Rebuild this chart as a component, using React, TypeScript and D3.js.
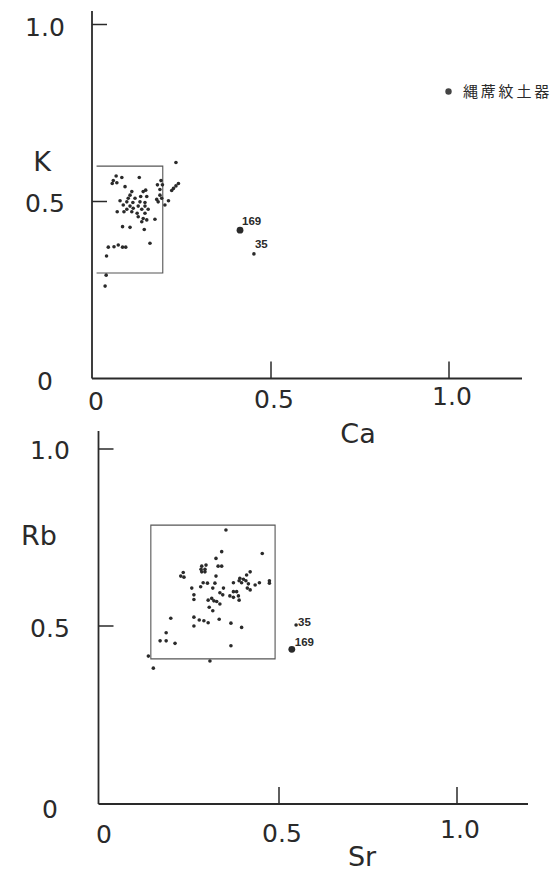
import React from "react";
import * as d3 from "d3";

// ---- Data ----
// Upper panel: Ca (x) vs K (y)
const caValues = [
  0.233, 0.065, 0.081, 0.057, 0.130, 0.054, 0.067, 0.090, 0.191, 0.181,
  0.195, 0.240, 0.233, 0.226, 0.221, 0.188, 0.148, 0.141, 0.109, 0.104,
  0.188, 0.134, 0.151, 0.099, 0.118, 0.179, 0.193, 0.076, 0.095, 0.112,
  0.132, 0.146, 0.183, 0.212, 0.085, 0.104, 0.127, 0.146, 0.202, 0.095,
  0.113, 0.137, 0.155, 0.068, 0.087, 0.109, 0.124, 0.146, 0.127, 0.141,
  0.151, 0.174, 0.137, 0.083, 0.104, 0.144, 0.160, 0.043, 0.059, 0.071,
  0.083, 0.092, 0.038, 0.037, 0.034,
];
const kValues = [
  0.610, 0.572, 0.568, 0.559, 0.568, 0.551, 0.553, 0.542, 0.559, 0.547,
  0.547, 0.551, 0.544, 0.537, 0.531, 0.534, 0.532, 0.528, 0.528, 0.518,
  0.518, 0.514, 0.514, 0.509, 0.509, 0.506, 0.509, 0.502, 0.499, 0.497,
  0.499, 0.497, 0.499, 0.502, 0.490, 0.487, 0.487, 0.487, 0.490, 0.478,
  0.481, 0.478, 0.478, 0.471, 0.471, 0.471, 0.467, 0.467, 0.457, 0.452,
  0.448, 0.450, 0.443, 0.429, 0.427, 0.421, 0.382, 0.371, 0.372, 0.377,
  0.371, 0.371, 0.346, 0.292, 0.261,
];
// Lower panel: Sr (x) vs Rb (y)
const srValues = [
  0.351, 0.339, 0.323, 0.453, 0.329, 0.339, 0.283, 0.295, 0.281, 0.292,
  0.283, 0.292, 0.231, 0.224, 0.233, 0.323, 0.419, 0.409, 0.390, 0.400,
  0.388, 0.407, 0.372, 0.395, 0.414, 0.433, 0.445, 0.473, 0.473, 0.287,
  0.299, 0.320, 0.280, 0.255, 0.314, 0.344, 0.411, 0.419, 0.334, 0.372,
  0.381, 0.261, 0.342, 0.362, 0.372, 0.386, 0.261, 0.388, 0.311, 0.301,
  0.317, 0.325, 0.334, 0.304, 0.314, 0.196, 0.261, 0.276, 0.289, 0.301,
  0.332, 0.261, 0.365, 0.395, 0.183, 0.166, 0.183, 0.208, 0.365, 0.133,
  0.306, 0.147,
];
const rbValues = [
  0.771, 0.710, 0.691, 0.705, 0.669, 0.669, 0.669, 0.672, 0.660, 0.660,
  0.653, 0.653, 0.651, 0.641, 0.638, 0.641, 0.653, 0.644, 0.635, 0.632,
  0.628, 0.628, 0.622, 0.622, 0.619, 0.616, 0.622, 0.628, 0.621, 0.622,
  0.621, 0.621, 0.611, 0.607, 0.607, 0.607, 0.607, 0.602, 0.594, 0.597,
  0.597, 0.588, 0.588, 0.585, 0.581, 0.585, 0.575, 0.573, 0.578, 0.573,
  0.571, 0.569, 0.562, 0.553, 0.543, 0.522, 0.525, 0.517, 0.515, 0.509,
  0.519, 0.500, 0.508, 0.496, 0.481, 0.458, 0.458, 0.451, 0.444, 0.415,
  0.401, 0.381,
];
// Labelled samples
const sampleIds = ["169", "35"];
const sampleCa = [0.413, 0.452];
const sampleK = [0.419, 0.352];
const sampleSr = [0.536, 0.548];
const sampleRb = [0.434, 0.503];
const sampleBig = [true, false];
// Selection boxes [x0, x1, y0, y1]
const boxCaK = [0.01, 0.196, 0.298, 0.600];
const boxSrRb = [0.140, 0.489, 0.407, 0.785];

const yTickValues = [0, 0.5, 1.0];
const xTickValues = [0, 0.5, 1.0];
const tickLabels = ["0", "0.5", "1.0"];
const legendLabel = "縄蓆紋土器";

const INK = "#2a2a2a";
const NUM_FONT = "'DejaVu Sans', sans-serif";

type PanelProps = {
  xs: number[]; ys: number[];
  sx: number[]; sy: number[];
  box: number[];
  xRange: [number, number]; yRange: [number, number];
  axisX: number; axisTop: number; axisRight: number; axisY: number;
  xTitle: string; yTitle: string;
  xTitlePos: [number, number]; yTitlePos: [number, number];
  yLabelX: number; yLabelDy: number[]; xLabelY: number[]; xLabelDx: number;
  sampleLabelPos: [number, number][];
  boxOpenLeft: boolean;
};

function Panel(p: PanelProps) {
  const x = d3.scaleLinear().domain([0, 1]).range(p.xRange);
  const y = d3.scaleLinear().domain([0, 1]).range(p.yRange);
  const [bx0, bx1, by0, by1] = p.box;
  const boxPath = p.boxOpenLeft
    ? `M${x(bx0)},${y(by1)}H${x(bx1)}V${y(by0)}H${x(bx0)}`
    : `M${x(bx0)},${y(by1)}H${x(bx1)}V${y(by0)}H${x(bx0)}Z`;
  return (
    <g>
      {/* axes */}
      <line x1={p.axisX} y1={p.axisTop} x2={p.axisX} y2={p.axisY} stroke={INK} strokeWidth={1.8} />
      <line x1={p.axisX} y1={p.axisY} x2={p.axisRight} y2={p.axisY} stroke={INK} strokeWidth={1.8} />
      {yTickValues.filter((v) => v > 0).map((v) => (
        <line key={"yt" + v} x1={p.axisX} x2={p.axisX + 15} y1={y(v)} y2={y(v)} stroke={INK} strokeWidth={1.5} />
      ))}
      {xTickValues.filter((v) => v > 0).map((v) => (
        <line key={"xt" + v} x1={x(v)} x2={x(v)} y1={p.axisY} y2={p.axisY - 17} stroke={INK} strokeWidth={1.5} />
      ))}
      {/* tick labels */}
      {yTickValues.map((v, i) => (
        <text key={"yl" + v} x={p.yLabelX} y={y(v) + p.yLabelDy[i]} textAnchor="middle"
          fontFamily={NUM_FONT} fontSize={25} fill={INK}>{tickLabels[i]}</text>
      ))}
      {xTickValues.map((v, i) => (
        <text key={"xl" + v} x={x(v) + p.xLabelDx} y={p.xLabelY[i]} textAnchor="middle"
          fontFamily={NUM_FONT} fontSize={25} fill={INK}>{tickLabels[i]}</text>
      ))}
      {/* titles */}
      <text x={p.xTitlePos[0]} y={p.xTitlePos[1]} textAnchor="middle" fontFamily={NUM_FONT} fontSize={27} fill={INK}>{p.xTitle}</text>
      <text x={p.yTitlePos[0]} y={p.yTitlePos[1]} textAnchor="middle" fontFamily={NUM_FONT} fontSize={27} fill={INK}>{p.yTitle}</text>
      {/* box */}
      <path d={boxPath} fill="none" stroke="#555" strokeWidth={1.1} />
      {/* points */}
      {p.xs.map((v, i) => (
        <circle key={"p" + i} cx={x(v)} cy={y(p.ys[i])} r={1.8} fill={INK} />
      ))}
      {p.sx.map((v, i) => (
        <g key={"s" + i}>
          <circle cx={x(v)} cy={y(p.sy[i])} r={sampleBig[i] ? 3.4 : 1.8} fill={INK} />
          <text x={x(v) + p.sampleLabelPos[i][0]} y={y(p.sy[i]) + p.sampleLabelPos[i][1]}
            fontFamily="'Liberation Sans', Arial, sans-serif" fontWeight="bold" fontSize={11.5} fill={INK}>
            {sampleIds[i]}
          </text>
        </g>
      ))}
    </g>
  );
}

export default function App() {
  return (
    <svg width={560} height={875} style={{ position: "absolute", left: 0, top: 0, background: "#fff" }}>
      <rect width={560} height={875} fill="#fff" />
      <Panel
        xs={caValues} ys={kValues} sx={sampleCa} sy={sampleK} box={boxCaK}
        xRange={[93, 449]} yRange={[378.5, 24.5]}
        axisX={92} axisTop={11} axisRight={522} axisY={378.5}
        xTitle="Ca" yTitle="K" xTitlePos={[358, 443]} yTitlePos={[42, 171]}
        yLabelX={45} yLabelDy={[11.5, 10.5, 11]} xLabelY={[410, 408, 405]} xLabelDx={3}
        sampleLabelPos={[[2, -5], [1, -6]]}
        boxOpenLeft={true}
      />
      <Panel
        xs={srValues} ys={rbValues} sx={sampleSr} sy={sampleRb} box={boxSrRb}
        xRange={[101, 457]} yRange={[803, 449]}
        axisX={98.5} axisTop={431} axisRight={528} axisY={804}
        xTitle="Sr" yTitle="Rb" xTitlePos={[362, 866]} yTitlePos={[39, 545]}
        yLabelX={50} yLabelDy={[15, 11, 10]} xLabelY={[843, 842, 838]} xLabelDx={3}
        sampleLabelPos={[[3, -3], [2, 1.5]]}
        boxOpenLeft={false}
      />
      {/* legend */}
      <circle cx={448.5} cy={91.5} r={3.2} fill="#444" />
      <text x={463} y={97} fontFamily="'Noto Sans CJK JP', sans-serif" fontSize={15} letterSpacing={2.8} fill={INK}>
        {legendLabel}
      </text>
    </svg>
  );
}
